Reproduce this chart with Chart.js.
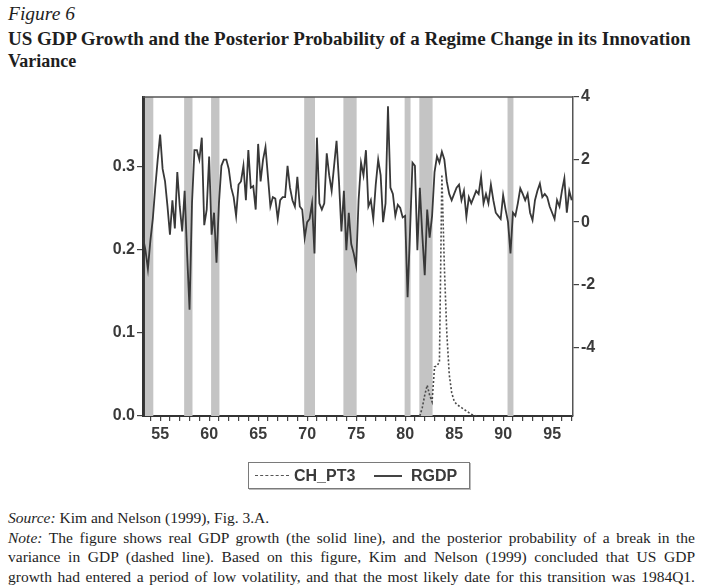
<!DOCTYPE html>
<html>
<head>
<meta charset="utf-8">
<script src="https://cdn.jsdelivr.net/npm/chart.js@4.4.0/dist/chart.umd.min.js"></script>
<style>
    body { margin: 0; width: 708px; height: 588px; background: #fff; position: relative; overflow: hidden; font-family: "Liberation Serif", serif; color: #1e1e1e; }
    .fit { display: inline-block; white-space: nowrap; }
    #fig { position: absolute; left: 8px; top: 4px; font-style: italic; font-size: 17px; line-height: 20px; }
    #title { position: absolute; left: 8px; top: 28px; font-weight: bold; font-size: 18px; line-height: 22px; }
    #title div { white-space: nowrap; }
    #wrap { position: absolute; left: 0; top: 0; width: 708px; height: 470px; }
    #legend { position: absolute; left: 248px; top: 462px; width: 220px; height: 25px; border: 1.5px solid #7a7a7a; box-shadow: 1px 1px 0 #bbb;
              font-family: "Liberation Sans", Arial, sans-serif; font-size: 16px; font-weight: bold; color: #3a3a3a; }
    #legend span { position: absolute; top: 3px; line-height: 19px; }
    #legend i { position: absolute; top: 12px; height: 0; }
    #foot { position: absolute; left: 8px; top: 508px; width: 687px; font-size: 15px; line-height: 19.5px; }
    #foot .j { text-align: justify; text-align-last: justify; white-space: nowrap; }
</style>
</head>
<body>
<div id="fig" class="fit" data-w="67">Figure 6</div>
<div id="title">
    <div class="fit" data-w="683">US GDP Growth and the Posterior Probability of a Regime Change in its Innovation</div>
    <div>Variance</div>
</div>
<div id="wrap"><canvas id="myChart" width="708" height="470"></canvas></div>
<div id="legend">
    <i style="left:6px;width:34px;border-top:1.5px dashed #555"></i>
    <span style="left:45px">CH_PT3</span>
    <i style="left:125px;width:28px;border-top:2px solid #444"></i>
    <span style="left:162px">RGDP</span>
</div>
<div id="foot">
    <div><i>Source:</i> Kim and Nelson (1999), Fig. 3.A.</div>
    <div class="j"><i>Note:</i> The figure shows real GDP growth (the solid line), and the posterior probability of a break in the</div>
    <div class="j">variance in GDP (dashed line). Based on this figure, Kim and Nelson (1999) concluded that US GDP</div>
    <div class="j">growth had entered a period of low volatility, and that the most likely date for this transition was 1984Q1.</div>
</div>
<script>
// quarterly real GDP growth, 1953Q2 .. 1997Q1 (right axis)
const rgdpStart = 1953.25
const rgdp = [
    -0.5, -0.9, -1.5,
    -0.6, 0.1, 1.1, 2.0,
    2.8, 1.7, 1.3, 0.5,
    -0.4, 0.7, -0.2, 1.6,
    0.5, -0.3, 1.0, -1.0,
    -2.8, 0.6, 2.3, 2.3,
    2.0, 2.7, -0.1, 0.4,
    2.1, -0.4, 0.3, -1.3,
    0.6, 1.8, 2.0, 2.0,
    1.7, 1.1, 0.8, 0.2,
    1.2, 1.3, 1.8, 0.7,
    2.3, 1.1, 1.15, 0.4,
    2.5, 1.3, 2.0, 2.4,
    1.45, 0.5, 0.8, 0.75,
    0.1, 0.7, 0.8, 0.8,
    1.8, 1.1, 0.7, 0.5,
    1.45, 0.5, 0.4, -0.5,
    0.0, 0.1, 0.6, -1.0,
    2.7, 0.6, 0.4, 0.6,
    2.2, 1.5, 1.0, 1.8,
    2.6, 1.3, -0.3, 1.0,
    -0.9, 0.3, -0.7, -1.0,
    -1.4, 0.7, 1.9, 1.5,
    2.3, 0.5, 0.7, 0.1,
    1.2, 2.0, 1.5, 0.0,
    0.6, 3.7, 1.1, 0.9,
    0.2, 0.55, 0.45, 0.15,
    0.2, -2.4, -0.3, 1.9,
    1.8, -0.9, 1.1, -0.4,
    -1.7, 0.4, -0.5, 0.2,
    1.6, 2.1, 1.9, 2.25,
    2.0, 1.3, 0.9, 0.7,
    0.9, 1.1, 1.2, 0.7,
    1.0, 0.17, 0.8, 0.6,
    0.8, 1.0, 0.9, 1.45,
    0.6, 0.9, 0.6, 1.2,
    0.7, 0.3, 0.2, 0.1,
    0.86, 0.4, 0.0, -1.0,
    0.3, 0.2, 0.6, 1.08,
    0.9, 0.7, 0.9, 0.3,
    0.06, 0.7, 1.0, 1.23,
    0.8, 0.9, 0.8, 0.5,
    0.3, 0.1, 0.7, 0.5,
    1.0, 1.4, 0.3, 1.0,
    0.7
]

// posterior probability of the break, 1981Q3 .. 1987Q3 (left axis)
const chPt3Start = 1981.5
const chPt3 = [0.0, 0.01, 0.025, 0.037, 0.025, 0.017, 0.059, 0.06, 0.065, 0.29, 0.18, 0.10,
    0.05, 0.028, 0.018, 0.014, 0.012, 0.01, 0.008, 0.006, 0.004, 0.002, 0.001, 0, 0]

// shaded recessions (start, end)
const recessions = [[1953.5, 1954.25], [1957.5, 1958.25], [1960.25, 1961.0], [1969.75, 1970.75],
    [1973.75, 1975.0], [1980.0, 1980.5], [1981.5, 1982.75], [1990.5, 1991.0]]

const leftTicks = [0, 0.1, 0.2, 0.3]
const rightTicks = [-4, -2, 0, 2, 4]
const labelYears = [1955, 1960, 1965, 1970, 1975, 1980, 1985, 1990, 1995]

// fit a few text lines to the widths measured on the original page
document.querySelectorAll('.fit[data-w]').forEach(el => {
    const fs = parseFloat(getComputedStyle(el).fontSize)
    el.style.fontSize = (fs * +el.dataset.w / el.getBoundingClientRect().width) + 'px'
})
const notes = [...document.querySelectorAll('#foot .j')]
let noteSize = 15.5
notes.forEach(el => {
    const s = document.createElement('span')
    s.style.whiteSpace = 'nowrap'
    s.innerHTML = el.innerHTML
    document.body.appendChild(s)
    s.style.fontSize = '15px'
    noteSize = Math.min(noteSize, 15 * 685 / s.getBoundingClientRect().width)
    s.remove()
})
notes.forEach(el => el.style.fontSize = noteSize + 'px')
document.querySelector('#foot div').style.fontSize = noteSize + 'px'

const yearTicks = []
for (let y = 1954; y <= 1997; y++) yearTicks.push(y)

const tickFont = { family: '"Liberation Sans", Arial, sans-serif', size: 16, weight: 'bold' }

const recessionShade = {
    id: 'recessionShade',
    beforeDatasetsDraw(chart) {
        const { ctx, chartArea: a, scales: { x } } = chart
        ctx.save()
        ctx.fillStyle = '#c4c4c4'
        recessions.forEach(([s, e]) => {
            const x0 = x.getPixelForValue(s)
            const x1 = x.getPixelForValue(e)
            ctx.fillRect(x0 - 0.5, a.top, x1 - x0 + 1, a.bottom - a.top)
        })
        ctx.restore()
    },
    afterDraw(chart) {
        const { ctx, chartArea: a } = chart
        ctx.save()
        ctx.strokeStyle = '#555'
        ctx.lineWidth = 1.5
        ctx.beginPath()
        ctx.moveTo(a.left, a.top)
        ctx.lineTo(a.right, a.top)
        ctx.stroke()
        ctx.restore()
    }
}

const ctx = document.getElementById('myChart')

new Chart(ctx, {
    type: 'line',
    data: {
        datasets: [
            {
                label: 'RGDP',
                data: rgdp.map((v, i) => ({ x: rgdpStart + i * 0.25, y: v })),
                yAxisID: 'y1',
                borderColor: '#383838',
                borderWidth: 1.8,
                pointRadius: 0,
                order: 0,
            },
            {
                label: 'CH_PT3',
                data: chPt3.map((v, i) => ({ x: chPt3Start + i * 0.25, y: v })),
                yAxisID: 'y',
                borderColor: '#4a4a4a',
                borderDash: [2, 2],
                borderWidth: 1.6,
                pointRadius: 0,
                order: 1,
            }
        ]
    },
    options: {
        responsive: false,
        animation: false,
        layout: { padding: { top: 97 } },
        plugins: { legend: { display: false }, tooltip: { enabled: false } },
        scales: {
            x: {
                type: 'linear',
                min: 1953.25,
                max: 1997.13,
                afterBuildTicks: s => { s.ticks = yearTicks.map(v => ({ value: v })) },
                afterFit: s => { s.height = 54 },
                ticks: {
                    autoSkip: false, maxRotation: 0, padding: 4, color: '#3a3a3a', font: tickFont,
                    callback: v => labelYears.includes(v) ? String(v % 100) : ''
                },
                grid: { drawOnChartArea: false, tickLength: 5, color: '#444', lineWidth: 1.2 },
                border: { color: '#333', width: 2 }
            },
            y: {
                position: 'left',
                min: 0,
                max: 0.383,
                afterBuildTicks: s => { s.ticks = leftTicks.map(v => ({ value: v })) },
                afterFit: s => { s.width = 143 },
                ticks: { padding: 2, color: '#3a3a3a', font: tickFont, callback: v => v.toFixed(1) },
                grid: { drawOnChartArea: false, tickLength: 6, color: '#444', lineWidth: 1.2 },
                border: { color: '#333', width: 3 }
            },
            y1: {
                position: 'right',
                min: -6.2,
                max: 4,
                afterBuildTicks: s => { s.ticks = rightTicks.map(v => ({ value: v })) },
                afterFit: s => { s.width = 135 },
                ticks: { padding: 2, color: '#3a3a3a', font: tickFont },
                grid: { drawOnChartArea: false, tickLength: 6, color: '#444', lineWidth: 1.2 },
                border: { color: '#555', width: 1.5 }
            }
        }
    },
    plugins: [recessionShade]
})
</script>
</body>
</html>
